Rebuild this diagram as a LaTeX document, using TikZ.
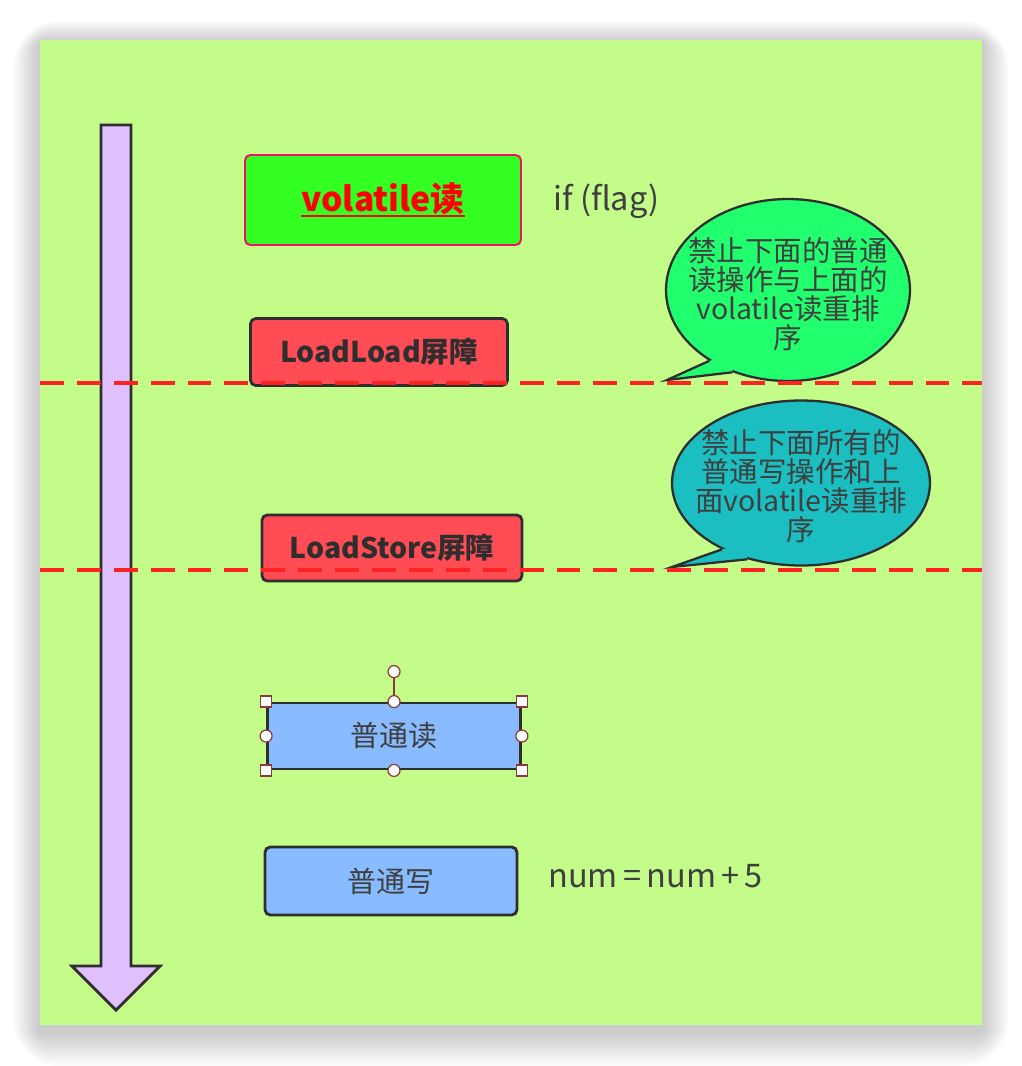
\documentclass[tikz,border=0pt]{standalone}
\usepackage{fontspec}
\setmainfont{Noto Sans CJK SC}
\usepackage{xcolor}
\usetikzlibrary{positioning,shapes.geometric,calc}
\definecolor{panel}{HTML}{C3FC89}
\definecolor{volFill}{HTML}{33FF22}
\definecolor{volEdge}{HTML}{EE1166}
\definecolor{barFill}{HTML}{FF4C55}
\definecolor{plainFill}{HTML}{88BBFF}
\definecolor{edgeDark}{HTML}{2E2E2E}
\definecolor{txtGray}{HTML}{3F3F3F}
\definecolor{fenceRed}{HTML}{FF2222}
\definecolor{bubA}{HTML}{22FF6E}
\definecolor{bubB}{HTML}{1BBFC1}
\definecolor{timeFill}{HTML}{E0C0FF}
\definecolor{handle}{HTML}{8B3A3A}
\newcommand{\redline}[1]{\leavevmode\setbox0\hbox{#1}\rlap{\copy0}%
  \raisebox{-3pt}{\rule{\wd0}{1.3pt}}}

\begin{document}
\begin{tikzpicture}[x=0.02cm, y=-0.02cm,
    op/.style 2 args={rectangle, rounded corners=3pt, draw=#1, fill=#2,
                  line width=1.6pt, align=center, inner sep=2pt},
    bubble/.style={ellipse, draw=edgeDark, fill=#1, line width=1.3pt,
                  minimum width=4.88cm, minimum height=3.64cm, inner sep=0pt},
    bubtext/.style={align=center, text=txtGray, inner sep=0pt,
                  font=\fontsize{16.2pt}{16.6pt}\selectfont},
    note/.style={anchor=west, text=txtGray, inner sep=0pt,
                  font=\fontsize{18.5pt}{20pt}\selectfont},
    fence/.style={draw=fenceRed, line width=2pt, dash pattern=on 13.6pt off 7.4pt},
    hsq/.style={draw=handle, fill=white, line width=0.7pt, minimum size=0.22cm,
                  inner sep=0pt, rectangle},
    hci/.style={draw=handle, fill=white, line width=0.7pt, minimum size=0.24cm,
                  inner sep=0pt, circle},
  ]
    \useasboundingbox (0,0) rectangle (1022,1066);

    % --- panel with soft shadow ---------------------------------------------
    \foreach \i in {1,...,18}
      \fill[black, opacity=0.012, rounded corners={1.5*\i pt}]
        ({40-1.5*\i},{44-1.3*\i}) rectangle ({982+1.5*\i},{1030+2*\i});
    \fill[panel] (40,40) rectangle (982,1025);

    % --- time axis -----------------------------------------------------------
    \draw[edgeDark, fill=timeFill, line width=1.6pt, line join=miter]
      (101,125) -- (131,125) -- (131,966) -- (160,966) -- (116,1010)
      -- (72,966) -- (101,966) -- cycle;

    % --- instruction boxes ----------------------------------------------------
    \node[op={volEdge}{volFill}, line width=1.1pt, minimum width=5.52cm, minimum height=1.8cm,
          text=red, font=\bfseries\fontsize{19.2pt}{20pt}\selectfont]
          (vr) at (383,200) {\redline{volatile读}};
    \node[op={edgeDark}{barFill}, minimum width=5.14cm, minimum height=1.34cm,
          text=edgeDark, font=\bfseries\fontsize{16.2pt}{18pt}\selectfont]
          (ll) at (379,352) {LoadLoad屏障};
    \node[op={edgeDark}{barFill}, minimum width=5.2cm, minimum height=1.32cm,
          text=edgeDark, font=\bfseries\fontsize{16.2pt}{18pt}\selectfont]
          (ls) at (392,548) {LoadStore屏障};
    \node[op={edgeDark}{plainFill}, rounded corners=0pt, minimum width=5.06cm,
          minimum height=1.32cm, text=txtGray, font=\fontsize{16.5pt}{18pt}\selectfont]
          (rd) at (394,736) {普通读};
    \node[op={edgeDark}{plainFill}, minimum width=5.04cm, minimum height=1.36cm,
          text=txtGray, font=\fontsize{16.5pt}{18pt}\selectfont]
          (wr) at (391,881) {普通写};

    \node[note] (cond) at (553,201) {if (flag)};
    \node[note] (sum)  at (548,876) {num{\kern3pt}={\kern3pt}num{\kern3pt}+{\kern3pt}5};

    % --- speech bubbles -------------------------------------------------------
    \node[bubble=bubA] (b1) at (788,290) {};
    \coordinate (t1) at (667,380);
    \fill[bubA] (b1.222) -- (t1) -- (b1.236) -- ($(b1.center)!0.85!(b1.229)$) -- cycle;
    \draw[edgeDark, line width=1.3pt, line join=miter] (b1.222) -- (t1) -- (b1.236);
    \node[bubtext] (b1t) at (788,294)
      {禁止下面的普通\\读操作与上面的\\volatile读重排\\序};

    \node[bubble=bubB, minimum width=5.16cm, minimum height=3.3cm] (b2) at (801,483) {};
    \coordinate (t2) at (672,567);
    \fill[bubB] (b2.220) -- (t2) -- (b2.235) -- ($(b2.center)!0.85!(b2.228)$) -- cycle;
    \draw[edgeDark, line width=1.3pt, line join=miter] (b2.220) -- (t2) -- (b2.235);
    \node[bubtext] (b2t) at (801,486)
      {禁止下面所有的\\普通写操作和上\\面volatile读重排\\序};

    % --- barrier fences -------------------------------------------------------
    \coordinate (f1l) at (40,383);  \coordinate (f1r) at (982,383);
    \coordinate (f2l) at (40,570);  \coordinate (f2r) at (982,570);
    \draw[fence] (f1l) -- (f1r);
    \draw[fence] (f2l) -- (f2r);

    % --- selection handles on the read box -----------------------------------
    \coordinate (rot) at ($(rd.north)+(0,-30)$);
    \draw[handle, line width=0.9pt] (rd.north) -- (rot);
    \node[hci] (hrot) at (rot) {};
    \foreach \a in {north west,north east,south west,south east}
      \node[hsq] (h-\a) at (rd.\a) {};
    \foreach \a in {north,south,west,east}
      \node[hci] (h-\a) at (rd.\a) {};
\end{tikzpicture}
\end{document}
